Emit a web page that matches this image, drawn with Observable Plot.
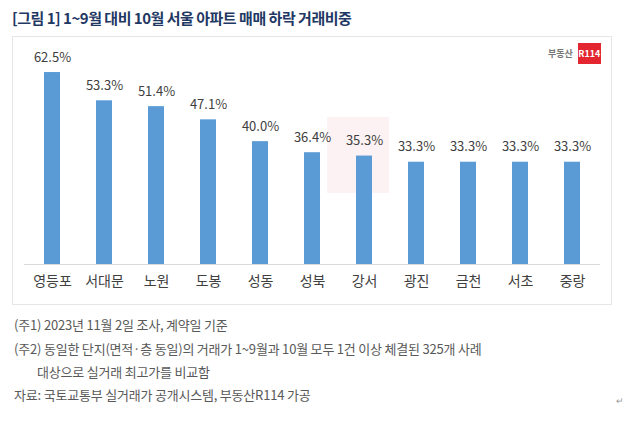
<!DOCTYPE html>
<html>
<head>
<meta charset="utf-8">
<script src="https://cdn.jsdelivr.net/npm/d3@7"></script>
<script src="https://cdn.jsdelivr.net/npm/@observablehq/plot@0.6"></script>
<style>
  body { margin:0; background:#fff; font-family:"Noto Sans CJK KR","Noto Sans",sans-serif; }
  #page { position:relative; width:628px; height:425px; overflow:hidden; }
  #title { position:absolute; left:12px; top:7px; font-size:15px; font-weight:bold; color:#1f3864; letter-spacing:-0.5px; white-space:nowrap; }
  #box { position:absolute; left:12px; top:36px; width:598px; height:267px; border:1px solid #e6e6e6; }
  #chart { position:absolute; left:0; top:0; }
  .note { position:absolute; font-size:13px; color:#595959; white-space:nowrap; letter-spacing:-0.2px; }
  #logo { position:absolute; left:548px; top:42px; height:22px; display:flex; align-items:center; }
  #logo .t { font-size:9px; color:#777; margin-right:5px; font-weight:bold; }
  #logo .r { background:#e3262f; color:#fff; font-size:9px; font-weight:bold; width:23px; height:21px; display:flex; align-items:center; justify-content:center; }
  #wm { position:absolute; left:327px; top:117px; width:62px; height:76px; background:#e3262f; opacity:0.06; }
</style>
</head>
<body>
<div id="page">
  <div id="title">[그림 1] 1~9월 대비 10월 서울 아파트 매매 하락 거래비중</div>
  <div id="wm"></div>
  <div id="box"><div id="chart"></div></div>
  <div id="logo"><span class="t">부동산</span><span class="r">R114</span></div>
  <div class="note" style="left:14px; top:315px;">(주1) 2023년 11월 2일 조사, 계약일 기준</div>
  <div class="note" style="left:14px; top:339px;">(주2) 동일한 단지(면적·층 동일)의 거래가 1~9월과 10월 모두 1건 이상 체결된 325개 사례</div>
  <div class="note" style="left:37px; top:362px;">대상으로 실거래 최고가를 비교함</div>
  <div class="note" style="left:14px; top:385px;">자료: 국토교통부 실거래가 공개시스템, 부동산R114 가공</div>
  <div class="note" style="left:616px; top:394px; font-size:9px; color:#999;">↵</div>
</div>
<script>
const districts = ["영등포","서대문","노원","도봉","성동","성북","강서","광진","금천","서초","중랑"];
const shares = [62.5, 53.3, 51.4, 47.1, 40.0, 36.4, 35.3, 33.3, 33.3, 33.3, 33.3];

const data = districts.map((d, i) => ({district: d, share: shares[i]}));

const chart = Plot.plot({
  width: 598,
  height: 267,
  marginLeft: 11,
  marginRight: 11,
  marginTop: 12,
  marginBottom: 40,
  style: {fontFamily: "'Noto Sans CJK KR','Noto Sans',sans-serif", background: "transparent"},
  x: {domain: districts, padding: 0.69, paddingOuter: 0.33, label: null},
  y: {domain: [0, 70], axis: null},
  marks: [
    Plot.barY(data, {x: "district", y: "share", fill: "#5b9bd5"}),
    Plot.ruleY([0], {stroke: "#d9d9d9", strokeWidth: 1}),
    Plot.text(data, {x: "district", y: "share", text: d => d.share.toFixed(1) + "%", dy: -15, fontSize: 13, fill: "#404040"}),
    Plot.axisX({tickSize: 0, tickPadding: 12, fontSize: 14, color: "#404040", label: null})
  ]
});
document.getElementById("chart").appendChild(chart);
</script>
</body>
</html>
